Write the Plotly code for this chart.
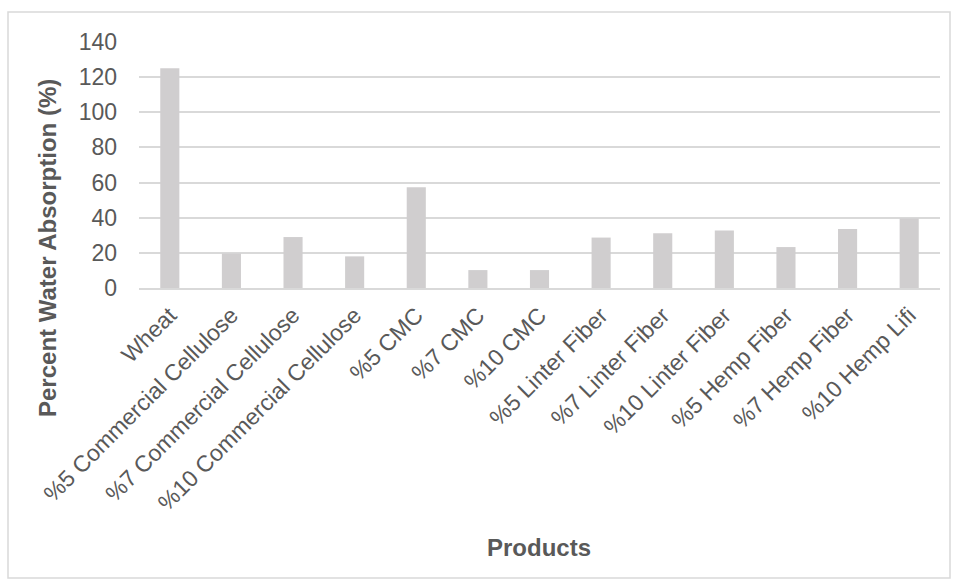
import plotly.graph_objects as go

categories = ["Wheat", "%5 Commercial Cellulose", "%7 Commercial Cellulose",
              "%10 Commercial Cellulose", "%5 CMC", "%7 CMC", "%10 CMC",
              "%5 Linter Fiber", "%7 Linter Fiber", "%10 Linter Fiber",
              "%5 Hemp Fiber", "%7 Hemp Fiber", "%10 Hemp Lifi"]
values = [125.0, 19.6, 29.0, 18.0, 57.3, 10.2, 10.2, 28.7, 31.1, 32.7, 23.3, 33.6, 39.5]
y_ticks = [0, 20, 40, 60, 80, 100, 120, 140]

W, H = 954, 584
L, R, T, B = 139, 14, 42, 296
pw, ph = W - L - R, H - T - B

def px_x(x):
    return (x - L) / pw

def px_y(y):
    return (H - B - y) / ph

text_col = "#595959"
grid_col = "#d9d9d9"
font = "Liberation Sans, Arial, sans-serif"

fig = go.Figure(go.Bar(x=categories, y=values, marker=dict(color="#d0cecf", line=dict(width=0)),
                       hoverinfo="x+y"))

fig.update_layout(
    width=W, height=H,
    margin=dict(l=L, r=R, t=T, b=B),
    paper_bgcolor="white", plot_bgcolor="white",
    bargap=0.69,
    showlegend=False,
    font=dict(family=font, color=text_col, size=22),
    xaxis=dict(tickangle=-45, showgrid=False, showline=True, linecolor=grid_col, linewidth=1.5,
               ticks="", tickfont=dict(size=23, color=text_col), ticklabelstandoff=3),
    yaxis=dict(range=[0, 140], tickvals=y_ticks, showgrid=True, gridcolor=grid_col, gridwidth=1.5,
               zeroline=False, showline=False, ticks="", tickfont=dict(size=23, color=text_col),
               ticklabelstandoff=21),
    annotations=[
        dict(text="<b>Percent Water Absorption (%)</b>", x=px_x(47), y=px_y(248), xref="paper", yref="paper",
             textangle=-90, showarrow=False, font=dict(size=24, color=text_col, family=font),
             xanchor="center", yanchor="middle"),
        dict(text="<b>Products</b>", x=px_x(539), y=px_y(547), xref="paper", yref="paper",
             showarrow=False, font=dict(size=24, color=text_col, family=font),
             xanchor="center", yanchor="middle"),
    ],
    shapes=[dict(type="rect", xref="paper", yref="paper", x0=px_x(8), x1=px_x(950), y0=px_y(12), y1=px_y(578),
                 line=dict(color=grid_col, width=1.5), fillcolor="rgba(0,0,0,0)", layer="below")],
)

fig.write_html("out.html")
